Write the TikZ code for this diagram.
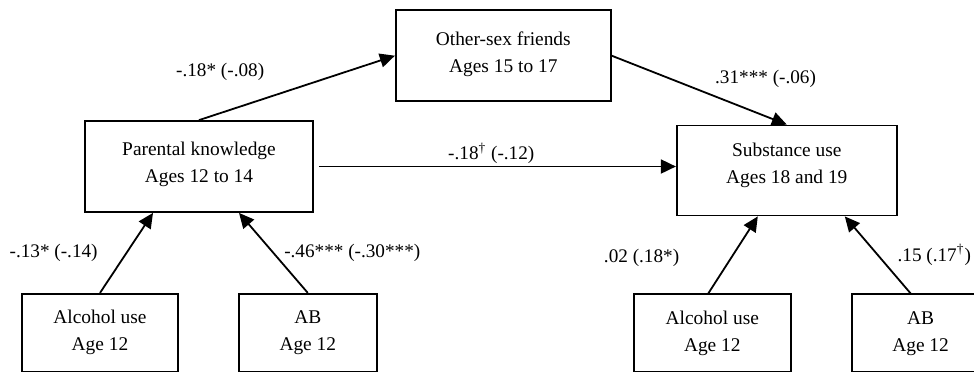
\documentclass[tikz,border=0pt]{standalone}
\usepackage{fontspec}
\setmainfont{Liberation Serif}
\usepackage{tikz}
\usetikzlibrary{arrows.meta, positioning, calc}

\begin{document}
\begin{tikzpicture}[
  box/.style={draw, line width=0.9pt, align=center, font=\fontsize{9.7}{13.5}\selectfont,
              inner sep=2pt, minimum height=45.5pt},
  small/.style={box, minimum height=39pt},
  lbl/.style={font=\fontsize{9.6}{12}\selectfont, inner sep=1pt},
  arr/.style={-{Triangle[length=7.5pt,width=7pt]}, line width=0.9pt}]

  \useasboundingbox (-99.5pt,-102.25pt) rectangle (387.5pt,83.25pt);

  % mediation path (top row)
  \node[box, minimum width=114pt, text depth=4.2pt] (pk) {Parental knowledge\\Ages 12 to 14};
  \node[box, minimum width=107.5pt, text depth=3.6pt, above right=9pt and 40.5pt of pk] (osf) {Other-sex friends\\Ages 15 to 17};
  \node[box, minimum width=110pt, minimum height=45pt, text depth=7pt, right=181pt of pk, yshift=-2pt] (su) {Substance use\\Ages 18 and 19};

  % age-12 controls (bottom row)
  \node[small, minimum width=78pt, below=40pt of pk, xshift=-49.5pt] (alc1) {Alcohol use\\Age 12};
  \node[small, minimum width=69pt, right=29.5pt of alc1] (ab1) {AB\\Age 12};
  \node[small, minimum width=78.5pt, below=38.5pt of su, xshift=-37.25pt] (alc2) {Alcohol use\\Age 12};
  \node[small, minimum width=69pt, right=29.5pt of alc2] (ab2) {AB\\Age 12};

  \draw[arr] (pk.north) -- node[lbl, pos=0.2, above=12pt, xshift=-9pt] (c1) {-.18* (-.08)} (osf.west);
  \draw[arr] (osf.east) -- node[lbl, midway, anchor=south west, xshift=6.5pt] (c2) {.31*** (-.06)} (su.north);
  \draw[arr, shorten <=2.5pt] (pk.east) -- node[lbl, pos=0.49, above=0pt] (c3) {-.18\textsuperscript{\textdagger} (-.12)} (pk.east -| su.west);

  \draw[arr] (alc1.north) -- node[lbl, midway, left=13pt] (c4) {-.13* (-.14)} ($(pk.south)+(-23pt,0)$);
  \draw[arr] (ab1.north) -- node[lbl, midway, right=4pt] (c5) {-.46*** (-.30***)} ($(pk.south)+(20pt,0)$);
  \draw[arr] ($(alc2.north)+(-2pt,0)$) -- node[lbl, midway, left=25.5pt, yshift=-1.25pt] (c6) {.02 (.18*)} ($(su.south)+(-14.5pt,0)$);
  \draw[arr] ($(ab2.north)+(-5pt,0)$) -- node[lbl, midway, right=8.5pt] (c7) {.15 (.17\textsuperscript{\textdagger})} ($(su.south)+(29pt,0)$);
\end{tikzpicture}
\end{document}
